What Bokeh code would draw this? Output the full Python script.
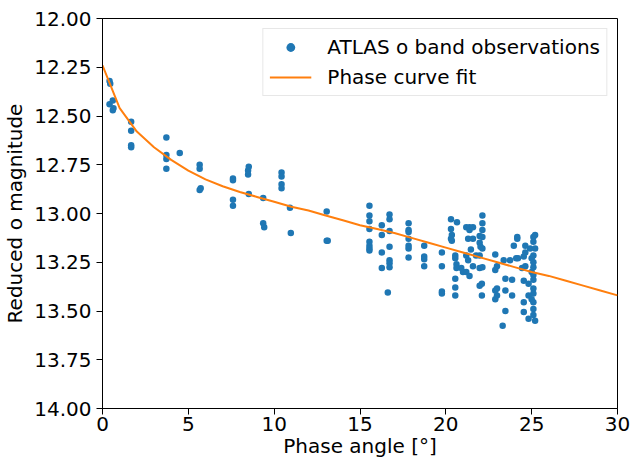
from bokeh.plotting import figure
from bokeh.models import Range1d, FixedTicker, PrintfTickFormatter, Legend, LegendItem
from bokeh.embed import file_html
from bokeh.resources import INLINE

# Observations: phase angle (deg) and reduced o magnitude
phase = [0.41, 0.45, 0.41, 0.60, 0.64, 0.60,
         1.67, 1.67, 1.67, 1.67,
         3.72, 3.72, 3.72, 3.72, 4.50,
         5.66, 5.66, 5.66, 5.72,
         7.60, 7.60, 7.60, 7.60,
         8.52, 8.48, 8.48, 8.52,
         9.36, 9.36, 9.42,
         10.43, 10.43, 10.43, 10.43,
         10.92, 10.97,
         13.06, 13.06, 13.12,
         15.55, 15.55, 15.55, 15.55, 15.55, 15.55, 15.55, 15.55,
         16.27, 16.27, 16.27, 16.27,
         16.72, 16.72, 16.72, 16.72, 16.72, 16.72, 16.72, 16.62,
         17.83, 17.83, 17.83, 17.83, 17.83, 17.83, 17.83,
         18.74, 18.74, 18.74, 18.74,
         19.77, 19.77, 19.77, 19.77,
         20.30, 20.30, 20.35, 20.30, 20.35,
         20.65,
         20.55, 20.55, 20.62, 20.62, 20.55, 20.55, 20.55,
         20.90, 21.00,
         21.19, 21.19, 21.19, 21.30, 21.30, 21.38, 21.38, 21.38, 21.46, 21.58, 21.58, 21.58,
         21.76,
         21.97, 21.97, 22.02, 21.97, 21.97, 21.97,
         22.10, 22.10,
         22.13, 22.13, 22.13, 22.13, 22.13, 22.13,
         22.88, 22.88, 22.88, 22.88,
         22.98, 22.98, 22.98,
         23.31, 23.37,
         23.47, 23.47, 23.47,
         23.74, 23.86, 23.86,
         23.96, 24.10, 24.16, 24.16, 24.20,
         24.44,
         24.54, 24.54, 24.54, 24.54,
         24.63, 24.63, 24.63,
         24.82, 24.82, 24.82,
         24.91,
         25.00, 25.00, 25.00,
         25.10, 25.10, 25.10, 25.10, 25.10, 25.10, 25.10, 25.10, 25.10, 25.10, 25.10, 25.10,
         25.20, 25.20, 25.20]
mag = [12.32, 12.335, 12.44, 12.42, 12.46, 12.47,
       12.53, 12.575, 12.65, 12.66,
       12.61, 12.70, 12.72, 12.77, 12.69,
       12.75, 12.77, 12.88, 12.87,
       12.82, 12.83, 12.93, 12.96,
       12.76, 12.78, 12.80, 12.90,
       12.92, 13.05, 13.07,
       12.79, 12.81, 12.85, 12.87,
       12.97, 13.10,
       12.99, 13.14, 13.14,
       12.96, 13.01, 13.04, 13.08, 13.145, 13.165, 13.18, 13.19,
       13.06, 13.11, 13.20, 13.28,
       13.005, 13.03, 13.09, 13.17, 13.24, 13.255, 13.275, 13.405,
       13.05, 13.085, 13.095, 13.13, 13.165, 13.18, 13.225,
       13.165, 13.22, 13.235, 13.27,
       13.20, 13.27, 13.40, 13.41,
       13.03, 13.08, 13.11, 13.13, 13.14,
       13.045,
       13.215, 13.23, 13.26, 13.28, 13.335, 13.38, 13.42,
       13.28, 13.30,
       13.07, 13.215, 13.30, 13.13, 13.24, 13.07, 13.085, 13.32, 13.185, 13.07, 13.13, 13.27,
       13.215,
       13.115, 13.15, 13.17, 13.215, 13.28, 13.37,
       13.36, 13.42,
       13.01, 13.05, 13.085, 13.12, 13.18, 13.275,
       13.21, 13.29, 13.395, 13.44,
       13.27, 13.385, 13.42,
       13.575, 13.24,
       13.335, 13.395, 13.50,
       13.24, 13.34, 13.42,
       13.165, 13.23, 13.13, 13.12, 13.23,
       13.28,
       13.22, 13.345, 13.455, 13.505,
       13.165, 13.20, 13.27,
       13.36, 13.42, 13.54,
       13.18,
       13.23, 13.30, 13.44,
       13.12, 13.145, 13.215, 13.25, 13.275, 13.315, 13.34, 13.385, 13.41, 13.455, 13.49, 13.52,
       13.18, 13.11, 13.55]

# Phase curve fit, sampled every degree
fit_phase = [0, 1, 2, 3, 4, 5, 6, 7, 8, 9, 10, 11, 12, 13, 14, 15,
             16, 17, 18, 19, 20, 21, 22, 23, 24, 25, 26, 27, 28, 29, 30]
fit_mag = [12.24, 12.46, 12.58, 12.66, 12.725, 12.78, 12.825, 12.86, 12.89, 12.915,
           12.94, 12.965, 12.985, 13.01, 13.035, 13.06, 13.08, 13.10, 13.125, 13.15,
           13.175, 13.20, 13.225, 13.25, 13.275, 13.30, 13.32, 13.345, 13.37, 13.395, 13.42]

x_ticks = [0, 5, 10, 15, 20, 25, 30]
y_ticks = [12.0, 12.25, 12.5, 12.75, 13.0, 13.25, 13.5, 13.75, 14.0]

FONT = "DejaVu Sans"
FS = "20px"

p = figure(width=632, height=462, output_backend="svg", toolbar_location=None,
           x_range=Range1d(0, 30), y_range=Range1d(14, 12),
           min_border_left=102, min_border_right=15, min_border_top=18, min_border_bottom=54)
p.background_fill_color = "white"
p.border_fill_color = "white"
p.outline_line_color = "black"
p.outline_line_width = 1
p.xgrid.visible = False
p.ygrid.visible = False

r_pts = p.scatter(phase, mag, size=6.5, color="#1f77b4", line_color=None)
r_fit = p.line(fit_phase, fit_mag, line_width=2, color="#ff7f0e")

for ax in (p.xaxis[0], p.yaxis[0]):
    ax.major_label_text_font = FONT
    ax.major_label_text_font_size = FS
    ax.major_label_text_color = "black"
    ax.axis_label_text_font = FONT
    ax.axis_label_text_font_size = FS
    ax.axis_label_text_font_style = "normal"
    ax.axis_label_text_color = "black"
    ax.minor_tick_line_color = None
    ax.major_tick_in = 0
    ax.major_tick_out = 6
    ax.axis_line_color = "black"
    ax.major_tick_line_color = "black"

p.xaxis[0].ticker = FixedTicker(ticks=x_ticks)
p.yaxis[0].ticker = FixedTicker(ticks=y_ticks)
p.yaxis[0].formatter = PrintfTickFormatter(format="%.2f")
p.xaxis[0].axis_label = "Phase angle [°]"
p.yaxis[0].axis_label = "Reduced o magnitude"
p.xaxis[0].major_label_standoff = 2
p.xaxis[0].axis_label_standoff = 0
p.yaxis[0].major_label_standoff = 5
p.yaxis[0].axis_label_standoff = 4

legend = Legend(items=[LegendItem(label="ATLAS o band observations", renderers=[r_pts]),
                       LegendItem(label="Phase curve fit", renderers=[r_fit])],
                location="top_right", margin=10)
legend.label_text_font = FONT
legend.label_text_font_size = FS
legend.label_text_color = "black"
legend.glyph_width = 42
legend.glyph_height = 22
legend.label_height = 22
legend.label_standoff = 16
legend.spacing = 6
legend.padding = 6
legend.border_line_color = "#d0d0d0"
legend.border_line_width = 1
legend.background_fill_alpha = 0.8
p.add_layout(legend)

open("out.html", "w").write(file_html(p, INLINE))
